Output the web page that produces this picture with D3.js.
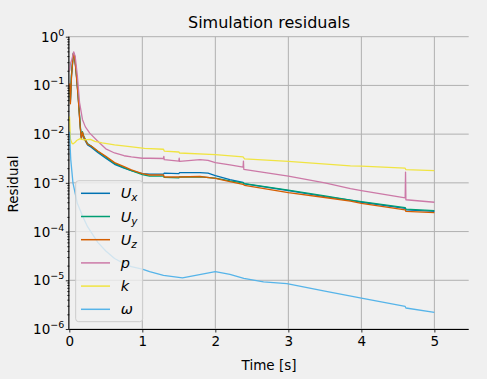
<!DOCTYPE html>
<html>
<head>
<meta charset="utf-8">
<script src="https://cdn.jsdelivr.net/npm/d3@7"></script>
<style>
  html, body { margin: 0; padding: 0; background: #f0f0f0; }
  svg { display: block; font-family: "DejaVu Sans", sans-serif; }
</style>
</head>
<body>
<svg id="chart" width="487" height="379"></svg>
<script>
// residual histories: [time (s), residual]
const Ux = [[0.005,0.1],[0.015,0.045],[0.03,0.16],[0.055,0.44],[0.07,0.40],[0.09,0.22],[0.12,0.063],[0.15,0.014],[0.165,0.0083],[0.18,0.0105],[0.2,0.0083],[0.25,0.0060],[0.3,0.0054],[0.39,0.0042],[0.5,0.0032],[0.62,0.0024],[0.75,0.0020],[0.85,0.00178],[1.0,0.00155],[1.1,0.00151],[1.29,0.00151],[1.3,0.00158],[1.5,0.00155],[1.51,0.00162],[1.79,0.00162],[1.9,0.00158],[2.0,0.00141],[2.2,0.00117],[2.38,0.00102],[2.4,0.00095],[3.0,0.00069],[3.5,0.00052],[3.85,0.00044],[4.0,0.00040],[4.6,0.00030],[4.61,0.00028],[5.0,0.00026]];
const Uy = [[0.005,0.09],[0.015,0.05],[0.03,0.17],[0.055,0.46],[0.07,0.42],[0.09,0.23],[0.12,0.065],[0.15,0.015],[0.165,0.0087],[0.18,0.0112],[0.2,0.0089],[0.25,0.0064],[0.3,0.0057],[0.39,0.0044],[0.5,0.0034],[0.62,0.0025],[0.75,0.00205],[0.85,0.00178],[1.0,0.00148],[1.1,0.00138],[1.29,0.00138],[1.3,0.00129],[1.5,0.00126],[1.51,0.00132],[1.79,0.00132],[2.0,0.00125],[2.2,0.00110],[2.38,0.00100],[2.4,0.00096],[3.0,0.00071],[3.5,0.00054],[3.85,0.00044],[4.0,0.00041],[4.6,0.00031],[4.61,0.00029],[5.0,0.00027]];
const Uz = [[0.005,0.11],[0.015,0.042],[0.03,0.15],[0.055,0.45],[0.07,0.40],[0.09,0.21],[0.12,0.06],[0.15,0.0135],[0.165,0.0080],[0.18,0.0110],[0.2,0.0086],[0.25,0.0062],[0.3,0.0057],[0.39,0.0045],[0.5,0.0035],[0.62,0.0026],[0.75,0.00215],[0.85,0.00185],[1.0,0.00155],[1.1,0.00145],[1.29,0.00145],[1.3,0.00132],[1.5,0.00132],[1.79,0.00135],[2.0,0.00123],[2.2,0.00106],[2.38,0.00093],[2.4,0.00089],[3.0,0.00063],[3.5,0.00050],[3.85,0.00042],[4.0,0.00038],[4.6,0.00028],[4.61,0.00026],[5.0,0.000245]];
const p = [[0.005,0.2],[0.015,0.28],[0.03,0.32],[0.06,0.49],[0.08,0.40],[0.11,0.16],[0.14,0.045],[0.18,0.020],[0.22,0.0141],[0.28,0.0105],[0.38,0.0074],[0.5,0.0050],[0.62,0.0041],[0.75,0.0036],[0.85,0.0034],[1.0,0.0032],[1.1,0.0032],[1.29,0.00316],[1.295,0.0035],[1.3,0.0030],[1.5,0.0028],[1.505,0.0032],[1.51,0.00275],[1.79,0.0030],[1.9,0.0029],[2.0,0.0026],[2.2,0.00234],[2.38,0.0021],[2.385,0.0028],[2.39,0.0019],[3.0,0.00138],[3.5,0.0010],[3.85,0.00076],[4.0,0.00069],[4.6,0.00049],[4.605,0.00166],[4.61,0.00045],[5.0,0.0004]];
const k = [[0.003,0.023],[0.015,0.008],[0.035,0.0066],[0.05,0.0063],[0.08,0.0068],[0.1,0.0074],[0.15,0.0081],[0.2,0.0076],[0.29,0.0078],[0.35,0.0071],[0.45,0.0066],[0.62,0.0060],[0.8,0.0056],[1.03,0.0051],[1.29,0.0049],[1.3,0.0045],[1.5,0.0043],[1.51,0.0041],[2.0,0.0038],[2.38,0.0034],[2.4,0.0031],[3.0,0.00275],[3.85,0.00224],[4.0,0.0022],[4.6,0.0020],[4.61,0.00186],[5.0,0.00178]];
const omega = [[0.003,0.0112],[0.01,0.0063],[0.02,0.0030],[0.05,0.001],[0.11,0.00038],[0.18,0.00021],[0.25,0.000126],[0.39,0.00006],[0.5,0.00004],[0.62,0.000028],[0.75,0.000022],[0.85,0.000019],[1.0,0.000017],[1.1,0.000015],[1.29,0.0000126],[1.55,0.0000112],[2.0,0.000015],[2.2,0.0000132],[2.39,0.000011],[2.66,0.0000093],[2.98,0.0000085],[3.5,0.000006],[4.0,0.0000043],[4.6,0.0000029],[4.61,0.0000027],[5.0,0.0000022]];

const seriesNames = ["x", "y", "z", "p", "k", "ω"];
const seriesData = [Ux, Uy, Uz, p, k, omega];
const seriesColors = ["#0072B2", "#009E73", "#D55E00", "#CC79A7", "#F0E442", "#56B4E9"];

const xTicks = [0, 1, 2, 3, 4, 5];
const yExponents = [0, -1, -2, -3, -4, -5, -6];

const svg = d3.select("#chart");
const plotLeft = 69.3, plotRight = 468.7, plotTop = 36.7, plotBottom = 329;

const x = d3.scaleLinear().domain([0, 5.47]).range([plotLeft, plotRight]);
const y = d3.scaleLog().domain([1e-6, 1]).range([plotBottom, plotTop]);

// grid
const grid = svg.append("g").attr("stroke", "#b0b0b0").attr("stroke-width", 1);
grid.selectAll(".gx").data(xTicks).enter().append("line")
  .attr("x1", d => x(d)).attr("x2", d => x(d))
  .attr("y1", plotTop).attr("y2", plotBottom);
grid.selectAll(".gy").data(yExponents).enter().append("line")
  .attr("x1", plotLeft).attr("x2", plotRight)
  .attr("y1", d => y(Math.pow(10, d))).attr("y2", d => y(Math.pow(10, d)));

// lines
const line = d3.line().x(d => x(d[0])).y(d => y(d[1]));
svg.append("g").selectAll("path")
  .data(seriesData)
  .enter().append("path")
  .attr("d", line)
  .attr("fill", "none")
  .attr("stroke", (d, i) => seriesColors[i])
  .attr("stroke-width", 1.3)
  .attr("stroke-linejoin", "round");

// axes
const xAxis = svg.append("g")
  .attr("transform", `translate(0,${plotBottom})`)
  .call(d3.axisBottom(x).tickValues(xTicks).tickSize(3.5).tickPadding(4).tickFormat(d3.format("d")));

const minor = [];
for (let e = -6; e < 0; e++) for (let m = 2; m <= 9; m++) minor.push(m * Math.pow(10, e));

const yAxisMinor = svg.append("g")
  .attr("transform", `translate(${plotLeft},0)`)
  .call(d3.axisLeft(y).tickValues(minor).tickSize(2).tickFormat(""));
yAxisMinor.select(".domain").remove();

const yAxis = svg.append("g")
  .attr("transform", `translate(${plotLeft},0)`)
  .call(d3.axisLeft(y).tickValues(yExponents.map(e => Math.pow(10, e))).tickSize(3.5).tickFormat(""));

[xAxis, yAxis, yAxisMinor].forEach(a => {
  a.selectAll("line").attr("stroke", "#000").attr("stroke-width", 0.8);
  a.select(".domain").attr("stroke", "#000").attr("stroke-width", 1);
});
xAxis.select(".domain").attr("d", `M${plotLeft},0.5H${plotRight}`);
yAxis.select(".domain").attr("d", `M-0.5,${plotTop}V${plotBottom}`);
xAxis.selectAll("text").attr("font-size", "13.5px").attr("fill", "#000")
  .attr("font-family", "DejaVu Sans");

// y tick labels with superscripts
const yLab = svg.append("g").selectAll("text")
  .data(yExponents).enter().append("text")
  .attr("x", plotLeft - 5)
  .attr("y", d => y(Math.pow(10, d)) + 5)
  .attr("text-anchor", "end")
  .attr("font-size", "13.5px")
  .attr("fill", "#000");
yLab.append("tspan").text("10");
yLab.append("tspan")
  .attr("dy", -6)
  .attr("font-size", "9.5px")
  .text(d => d === 0 ? "0" : "\u2212" + (-d));

// titles
svg.append("text")
  .attr("x", (plotLeft + plotRight) / 2).attr("y", 28)
  .attr("text-anchor", "middle")
  .attr("font-size", "16px")
  .text("Simulation residuals");

svg.append("text")
  .attr("x", (plotLeft + plotRight) / 2).attr("y", 369.5)
  .attr("text-anchor", "middle")
  .attr("font-size", "13.5px")
  .text("Time [s]");

svg.append("text")
  .attr("transform", "rotate(-90)")
  .attr("x", -184).attr("y", 17.5)
  .attr("text-anchor", "middle")
  .attr("font-size", "13.5px")
  .text("Residual");

// legend
const legend = svg.append("g").attr("transform", "translate(75.7,180.7)");
legend.append("rect")
  .attr("width", 67).attr("height", 141)
  .attr("rx", 3).attr("ry", 3)
  .attr("fill", "#f0f0f0").attr("fill-opacity", 0.8)
  .attr("stroke", "#cccccc").attr("stroke-width", 1);

const items = legend.selectAll(".item")
  .data(seriesNames).enter().append("g")
  .attr("transform", (d, i) => `translate(0,${12.6 + i * 23.2})`);
items.append("line")
  .attr("x1", 5.3).attr("x2", 34.3)
  .attr("stroke", (d, i) => seriesColors[i])
  .attr("stroke-width", 1.5);
items.each(function(d, i) {
  const t = d3.select(this).append("text")
    .attr("x", 45).attr("y", 5)
    .attr("font-size", "14.5px")
    .attr("font-style", "italic");
  if (i < 3) {
    t.append("tspan").text("U");
    t.append("tspan").attr("dy", 3).attr("font-size", "10.5px").text(d);
  } else {
    t.text(d);
  }
});
</script>
</body>
</html>
